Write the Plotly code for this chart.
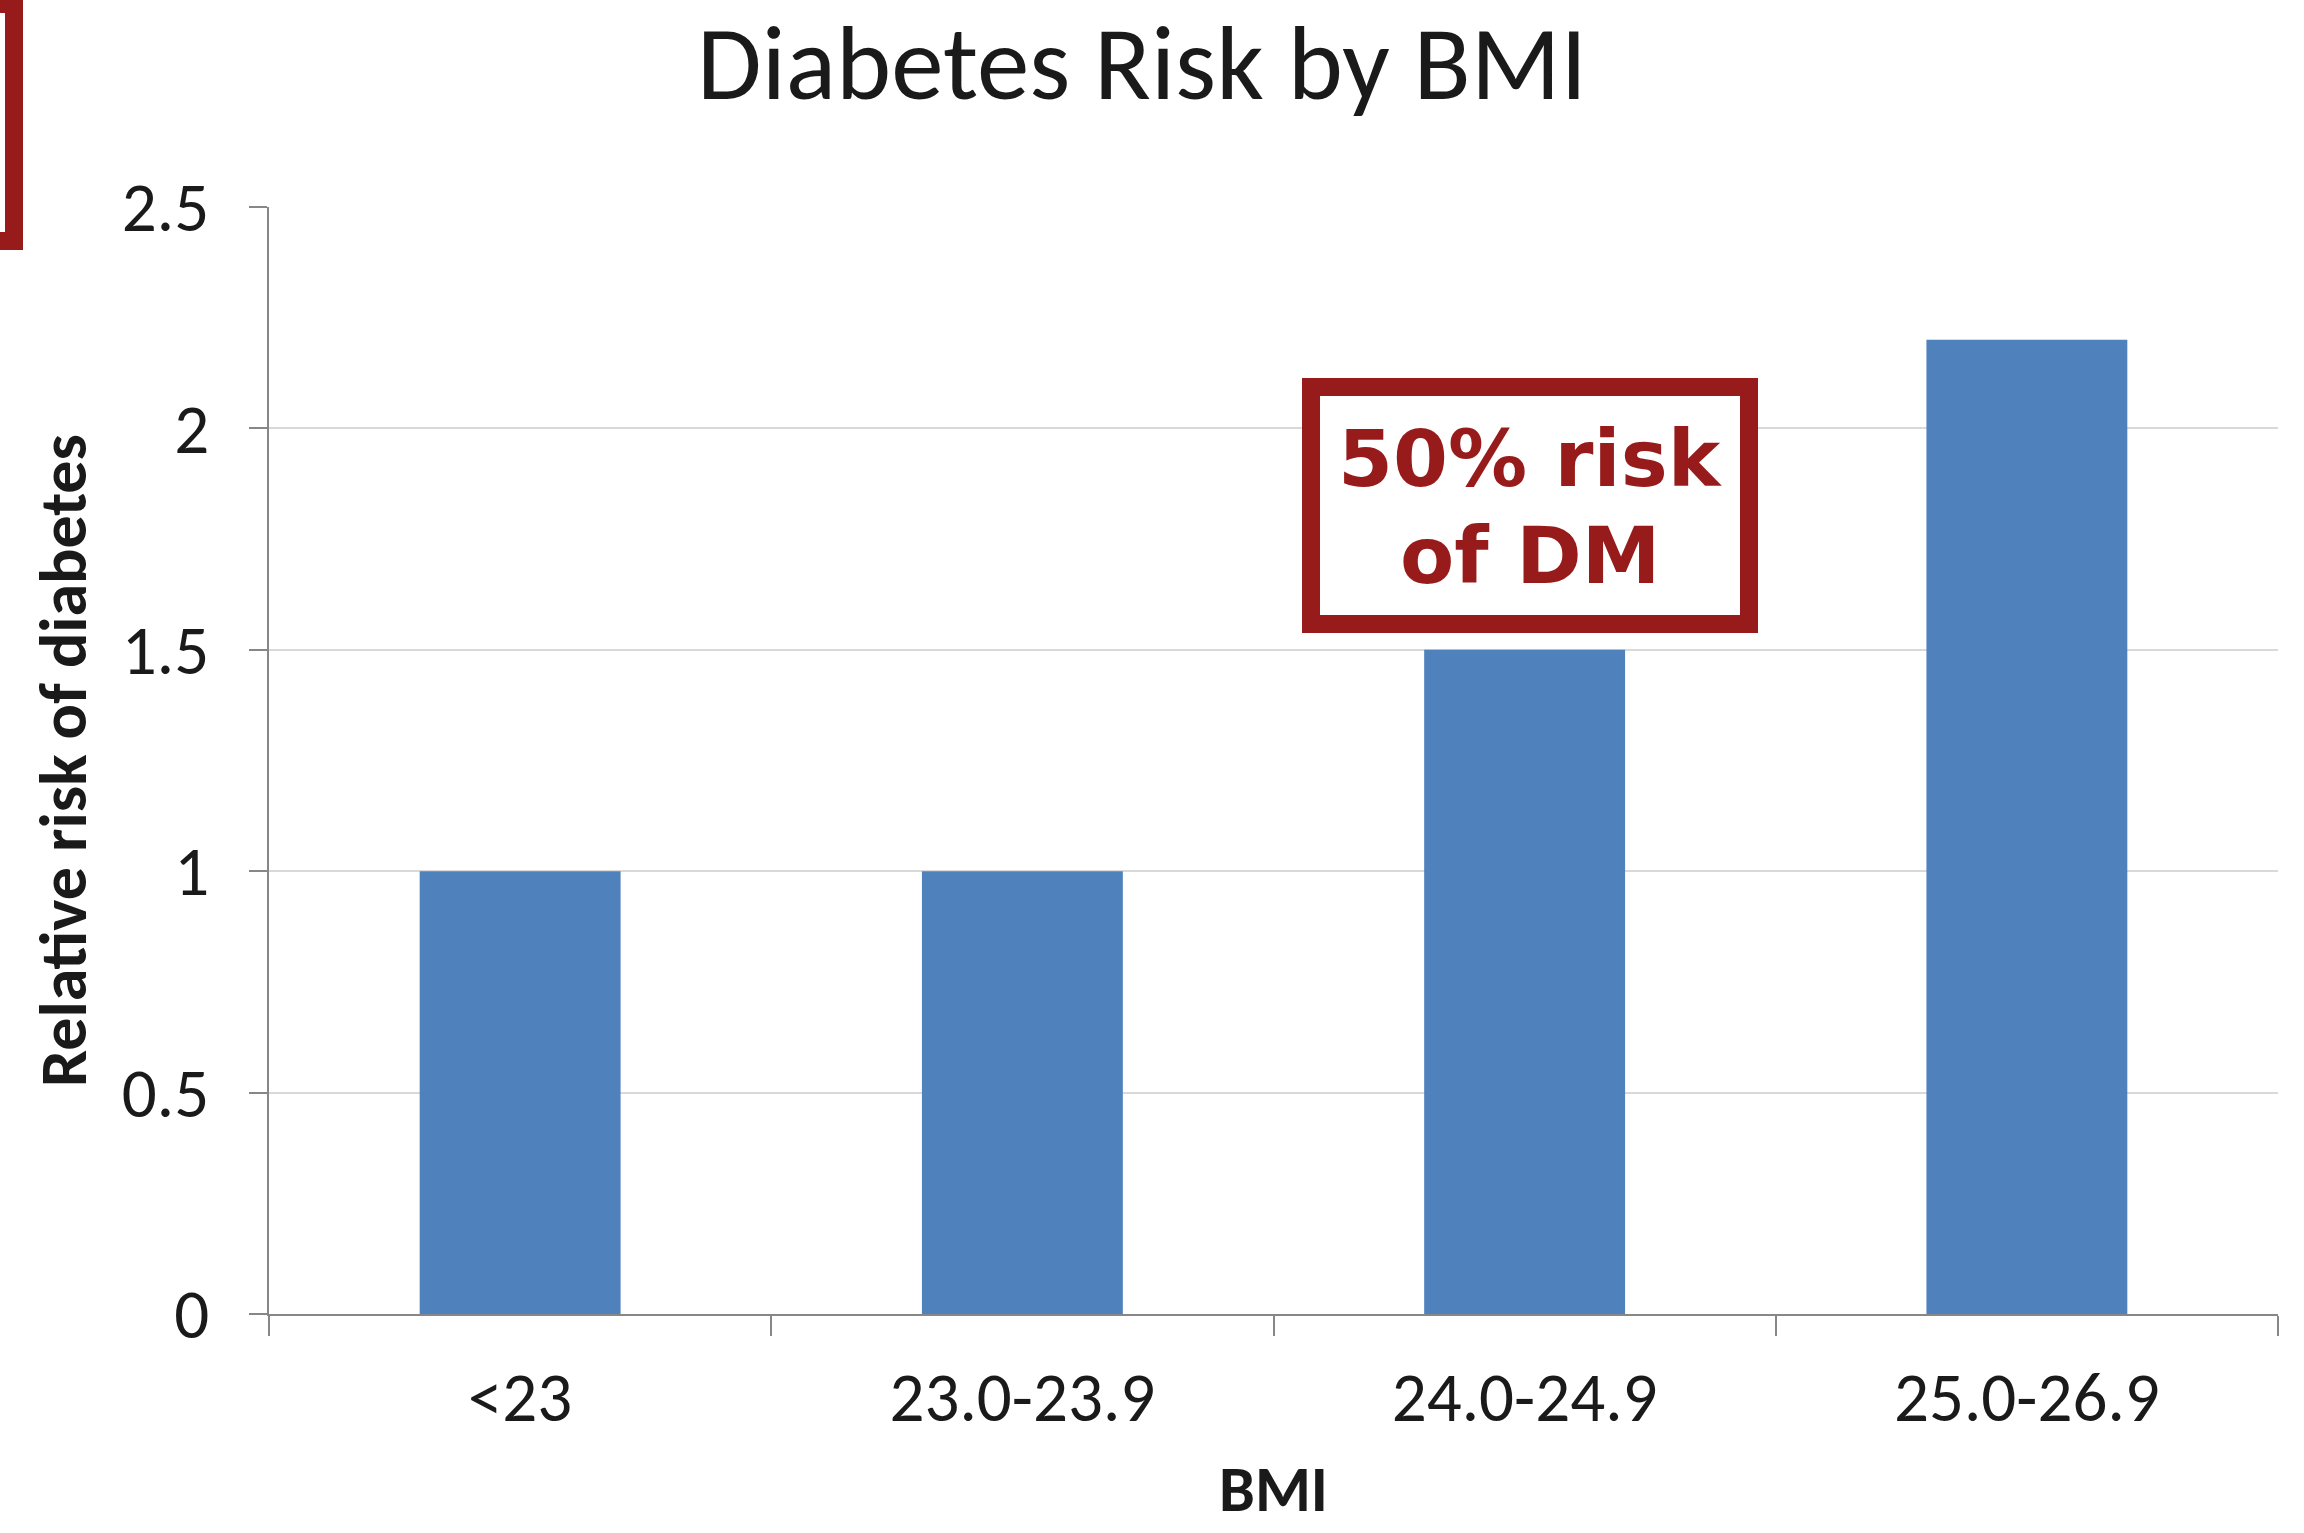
import plotly.graph_objects as go

# Relative risk of diabetes by BMI category
bmi_groups = ["<23", "23.0-23.9", "24.0-24.9", "25.0-26.9"]
relative_risk = [1.0, 1.0, 1.5, 2.2]
y_ticks = [0, 0.5, 1, 1.5, 2, 2.5]

W, H = 2304, 1533
L, R, T, B = 269, 26, 207, 219
PW, PH = W - L - R, H - T - B


def px_x(p):
    return (p - L) / PW


def px_y(p):
    return (H - B - p) / PH


DARK_RED = "#981B1B"
BAR_BLUE = "#4F81BD"
AXIS_GREY = "#878787"
GRID_GREY = "#D9D9D9"
TEXT = "#1A1A1A"
FONT = "Carlito, Lato, sans-serif"

fig = go.Figure(
    go.Bar(
        x=bmi_groups,
        y=relative_risk,
        width=0.4,
        marker=dict(color=BAR_BLUE, line=dict(width=0)),
    )
)

fig.update_layout(
    width=W,
    height=H,
    margin=dict(l=L, r=R, t=T, b=B, autoexpand=False),
    paper_bgcolor="white",
    plot_bgcolor="white",
    showlegend=False,
    title=dict(
        text="Diabetes Risk by BMI",
        x=1142 / W,
        xanchor="center",
        y=1 - 62 / H,
        yanchor="middle",
        font=dict(family=FONT, size=105, color=TEXT),
    ),
)

fig.update_xaxes(
    showline=True,
    linecolor=AXIS_GREY,
    linewidth=2,
    ticks="outside",
    tickson="boundaries",
    ticklen=20,
    tickwidth=2,
    tickcolor=AXIS_GREY,
    showgrid=False,
    tickfont=dict(family=FONT, size=69, color=TEXT),
    ticklabelstandoff=22,
)

fig.update_yaxes(
    range=[0, 2.5],
    tickvals=y_ticks,
    ticktext=[f"{v:g}" for v in y_ticks],
    showline=True,
    linecolor=AXIS_GREY,
    linewidth=2,
    ticks="outside",
    ticklen=18,
    tickwidth=2,
    tickcolor=AXIS_GREY,
    showgrid=True,
    gridcolor=GRID_GREY,
    gridwidth=2,
    zeroline=False,
    tickfont=dict(family=FONT, size=69, color=TEXT),
    ticklabelstandoff=26,
)

# Axis titles
fig.add_annotation(
    text="<b>BMI</b>", xref="paper", yref="paper",
    x=px_x(1273), y=px_y(1489), xanchor="center", yanchor="middle",
    showarrow=False, font=dict(family=FONT, size=64, color=TEXT),
)
fig.add_annotation(
    text="<b>Relative risk of diabetes</b>", xref="paper", yref="paper",
    x=px_x(63), y=px_y(761), xanchor="center", yanchor="middle",
    textangle=-90, showarrow=False,
    font=dict(family=FONT, size=66, color=TEXT),
)

# Callout box
fig.add_shape(
    type="rect", xref="paper", yref="paper",
    x0=px_x(1311), x1=px_x(1749), y0=px_y(624), y1=px_y(387),
    line=dict(color=DARK_RED, width=18), fillcolor="white", layer="above",
)
fig.add_annotation(
    text="<b>50% risk</b>", xref="paper", yref="paper",
    x=px_x(1530), y=px_y(459), xanchor="center", yanchor="middle",
    showarrow=False, font=dict(family="DejaVu Sans", size=79, color=DARK_RED),
)
fig.add_annotation(
    text="<b>of DM</b>", xref="paper", yref="paper",
    x=px_x(1530), y=px_y(556), xanchor="center", yanchor="middle",
    showarrow=False, font=dict(family="DejaVu Sans", size=79, color=DARK_RED),
)

# Frame edge at the top-left corner
fig.add_shape(
    type="rect", xref="paper", yref="paper",
    x0=px_x(-200), x1=px_x(14), y0=px_y(241), y1=px_y(4),
    line=dict(color=DARK_RED, width=18), fillcolor="rgba(0,0,0,0)",
)

fig.write_html("out.html")
